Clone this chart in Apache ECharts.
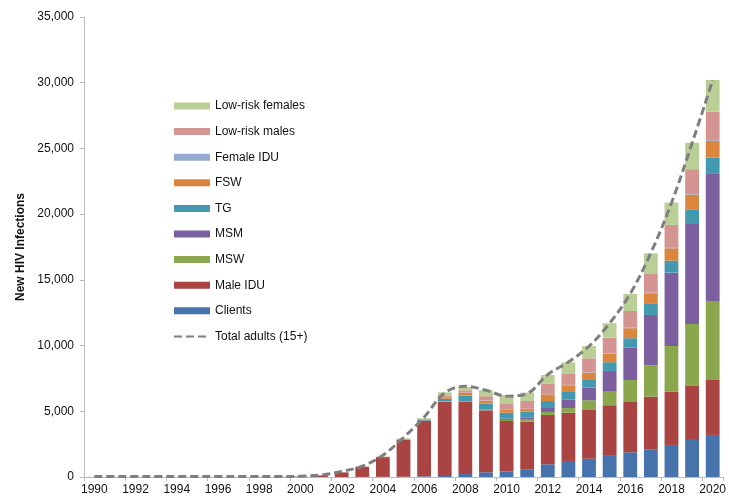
<!DOCTYPE html>
<html>
<head>
<meta charset="utf-8">
<script src="https://cdn.jsdelivr.net/npm/echarts@6/dist/echarts.min.js"></script>
<style>
  html, body { margin: 0; padding: 0; background: #fff; }
  #container { width: 729px; height: 500px; }
</style>
</head>
<body>
<div id="container"></div>
<script>
// years on the x axis
var years = ['1990', '1991', '1992', '1993', '1994', '1995', '1996', '1997', '1998', '1999',
  '2000', '2001', '2002', '2003', '2004', '2005', '2006', '2007', '2008', '2009',
  '2010', '2011', '2012', '2013', '2014', '2015', '2016', '2017', '2018', '2019', '2020'];

// new infections by group, 1990 - 2020
var clients = [0, 0, 0, 0, 0, 0, 0, 0, 0, 0,
  0, 0, 0, 5, 10, 20, 50, 80, 230, 360,
  430, 590, 970, 1220, 1390, 1670, 1880, 2110, 2440, 2820, 3200];
var maleIdu = [10, 10, 10, 10, 10, 10, 10, 10, 15, 15,
  40, 120, 350, 770, 1500, 2800, 4250, 5650, 5500, 4710,
  3830, 3620, 3750, 3670, 3760, 3790, 3880, 4000, 4050, 4110, 4230];
var msw = [0, 0, 0, 0, 0, 0, 0, 0, 0, 0,
  0, 0, 0, 0, 0, 0, 0, 10, 20, 20,
  80, 150, 230, 360, 690, 1030, 1620, 2390, 3480, 4710, 5960];
var msm = [0, 0, 0, 0, 0, 0, 0, 0, 0, 0,
  0, 0, 0, 0, 0, 0, 0, 10, 30, 30,
  100, 150, 300, 630, 960, 1580, 2460, 3830, 5580, 7610, 9670];
var tg = [0, 0, 0, 0, 0, 0, 0, 0, 0, 0,
  0, 0, 0, 5, 15, 40, 60, 200, 420, 460,
  450, 460, 530, 590, 580, 660, 720, 840, 910, 1120, 1240];
var fsw = [0, 0, 0, 0, 0, 0, 0, 0, 0, 0,
  0, 0, 0, 5, 10, 20, 30, 120, 230, 220,
  260, 200, 510, 510, 560, 630, 760, 810, 940, 1090, 1290];
var femaleIdu = [0, 0, 0, 0, 0, 0, 0, 0, 0, 0,
  0, 0, 0, 0, 0, 5, 10, 20, 20, 20,
  20, 20, 20, 30, 30, 30, 40, 40, 40, 50, 50];
var lowRiskMales = [0, 0, 0, 0, 0, 0, 0, 0, 0, 0,
  0, 0, 0, 5, 10, 20, 30, 130, 150, 330,
  440, 590, 770, 830, 1060, 1210, 1270, 1480, 1740, 1910, 2160];
var lowRiskFemales = [0, 0, 0, 0, 0, 0, 0, 0, 0, 0,
  0, 0, 0, 5, 15, 40, 50, 220, 250, 460,
  630, 640, 680, 890, 940, 1100, 1300, 1520, 1700, 2020, 2410];
// total adults (15+)
var totalAdults = [30, 30, 30, 30, 30, 30, 30, 30, 30, 30,
  60, 150, 420, 820, 1650, 3000, 4550, 6400, 6900, 6600,
  6150, 6350, 7800, 8750, 9950, 11700, 13950, 17050, 20850, 25400, 30200];

var dom = document.getElementById('container');
var myChart = echarts.init(dom, null, { renderer: 'canvas' });

function barSeries(name, data, color) {
  return {
    name: name,
    type: 'bar',
    stack: 'total',
    barCategoryGap: '33%',
    data: data,
    itemStyle: { color: color },
    emphasis: { disabled: true }
  };
}

var option = {
  animation: false,
  textStyle: { fontFamily: 'Liberation Sans' },
  grid: { left: 84, right: 3, top: 17, bottom: 23 },
  legend: {
    orient: 'vertical',
    left: 168,
    top: 95,
    itemWidth: 36,
    itemHeight: 7,
    itemGap: 13.6,
    textStyle: { fontSize: 12, color: '#111' },
    data: [
      { name: 'Low-risk females', icon: 'rect' },
      { name: 'Low-risk males', icon: 'rect' },
      { name: 'Female IDU', icon: 'rect' },
      { name: 'FSW', icon: 'rect' },
      { name: 'TG', icon: 'rect' },
      { name: 'MSM', icon: 'rect' },
      { name: 'MSW', icon: 'rect' },
      { name: 'Male IDU', icon: 'rect' },
      { name: 'Clients', icon: 'rect' },
      {
        name: 'Total adults (15+)',
        itemStyle: { color: 'rgba(0,0,0,0)', borderColor: 'rgba(0,0,0,0)', borderWidth: 0 }
      }
    ]
  },
  xAxis: {
    type: 'category',
    data: years,
    boundaryGap: true,
    axisLine: { lineStyle: { color: '#bcbcbc' } },
    axisTick: { show: true, interval: 1, length: 4, lineStyle: { color: '#bcbcbc' } },
    axisLabel: { interval: 1, color: '#111', fontSize: 12, margin: 7 }
  },
  yAxis: {
    type: 'value',
    min: 0,
    max: 35000,
    interval: 5000,
    name: 'New HIV Infections',
    nameLocation: 'middle',
    nameGap: 46,
    nameTextStyle: { fontWeight: 'bold', fontSize: 12, color: '#111' },
    axisLine: { show: true, lineStyle: { color: '#bcbcbc' } },
    axisTick: { show: true, length: 4, lineStyle: { color: '#bcbcbc' } },
    splitLine: { show: false },
    axisLabel: {
      color: '#111',
      fontSize: 12,
      margin: 10,
      formatter: function (v) { return v.toLocaleString('en-US'); }
    }
  },
  series: [
    barSeries('Clients', clients, '#4673ab'),
    barSeries('Male IDU', maleIdu, '#a94442'),
    barSeries('MSW', msw, '#8aa74e'),
    barSeries('MSM', msm, '#7b5f9f'),
    barSeries('TG', tg, '#4399b0'),
    barSeries('FSW', fsw, '#dc853d'),
    barSeries('Female IDU', femaleIdu, '#93a9cf'),
    barSeries('Low-risk males', lowRiskMales, '#d49492'),
    barSeries('Low-risk females', lowRiskFemales, '#b9cf96'),
    {
      name: 'Total adults (15+)',
      type: 'line',
      data: totalAdults,
      smooth: 0.35,
      symbol: 'none',
      z: 10,
      lineStyle: { color: '#7f7f7f', width: 3, type: [8, 4] },
      itemStyle: { color: '#7f7f7f' },
      emphasis: { disabled: true }
    }
  ]
};

myChart.setOption(option);

window.addEventListener('resize', function () {
  myChart.resize();
});
</script>
</body>
</html>
